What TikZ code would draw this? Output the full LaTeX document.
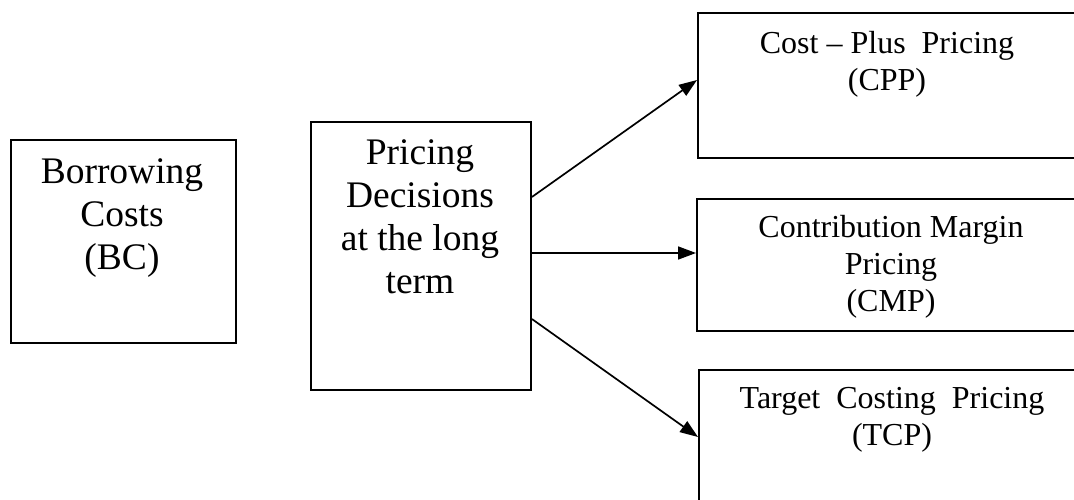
\documentclass[tikz,border=0pt]{standalone}
\usepackage{fontspec}
\setmainfont{Liberation Serif}
\usetikzlibrary{arrows.meta,calc}
\tikzset{
  box/.style={draw, line width=1.9pt, rectangle, inner sep=0pt, anchor=north west},
  bigtxt/.style={anchor=north, inner sep=0pt, align=center, font=\fontsize{37.5}{43}\selectfont},
  smalltxt/.style={anchor=north, inner sep=0pt, align=center, font=\fontsize{32}{37}\selectfont},
  arr/.style={line width=1.7pt, -{Triangle[length=18pt,width=13pt]}}
}
\begin{document}
\begin{tikzpicture}[x=1pt,y=-1pt]
\useasboundingbox (0,0) rectangle (1074,500);
\clip (0,0) rectangle (1074,500);
\node[box, minimum width=225pt, minimum height=203pt] (bc) at (10,139) {};
\node[box, minimum width=220pt, minimum height=268pt] (pd) at (310,121) {};
\node[box, minimum width=380pt, minimum height=145pt] (cpp) at (697,12) {};
\node[box, minimum width=380pt, minimum height=132pt] (cmp) at (696,198) {};
\node[box, minimum width=380pt, minimum height=151pt] (tcp) at (698,369) {};
\node[bigtxt] (bct) at (122,158.4) {Borrowing\\Costs\\(BC)};
\node[bigtxt] (pdt) at (420,139.4) {Pricing\\Decisions\\at the long\\term};
\node[smalltxt] (cppt) at (887,31) {Cost -- Plus\ \ Pricing\\(CPP)};
\node[smalltxt] (cmpt) at (891,215) {Contribution Margin\\Pricing\\(CMP)};
\node[smalltxt] (tcpt) at (892,387) {Target\ \ Costing\ \ Pricing\\(TCP)};
\draw[arr] ($(pd.north east)+(0,76)$) -- ($(cpp.north west)+(0,68)$);
\draw[arr] ($(pd.north east)+(0,132)$) -- ($(cmp.north west)+(0,55)$);
\draw[arr] ($(pd.north east)+(0,198)$) -- ($(tcp.north west)+(0,68)$);
\end{tikzpicture}
\end{document}
